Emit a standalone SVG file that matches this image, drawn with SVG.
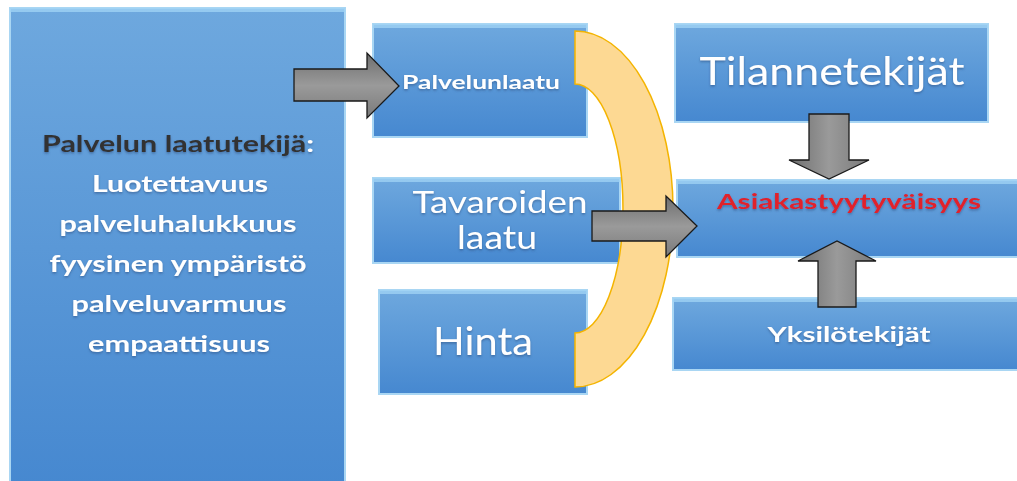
<svg xmlns="http://www.w3.org/2000/svg" width="1017" height="481" viewBox="0 0 1017 481">
<defs>
<linearGradient id="blue" x1="0" y1="0" x2="0" y2="1">
<stop offset="0" stop-color="#6ea8de"/>
<stop offset="1" stop-color="#4688d0"/>
</linearGradient>
<linearGradient id="grayH" x1="0" y1="0" x2="0" y2="1">
<stop offset="0" stop-color="#6e6e6e"/>
<stop offset="0.5" stop-color="#9a9a9a"/>
<stop offset="1" stop-color="#7a7a7a"/>
</linearGradient>
<linearGradient id="grayV" x1="0" y1="0" x2="1" y2="0">
<stop offset="0" stop-color="#6e6e6e"/>
<stop offset="0.5" stop-color="#9a9a9a"/>
<stop offset="1" stop-color="#7a7a7a"/>
</linearGradient>
<filter id="sh" x="-10%" y="-20%" width="120%" height="160%">
<feDropShadow dx="0" dy="1.5" stdDeviation="1" flood-color="#2a4f80" flood-opacity="0.6"/>
</filter>
</defs>
<style>
.box{fill:url(#blue);stroke:#a9d6f3;stroke-width:2}
.hl{fill:#9fd2f4;opacity:0.8}
.t{font-family:Lato,"Open Sans",sans-serif;fill:#ffffff;text-anchor:middle;filter:url(#sh)}
.b{font-weight:bold}
.arr{stroke:#1a1a1a;stroke-width:1.3}
</style>

<g id="n-laatutekija">
<rect class="box" x="10" y="8" width="335" height="480"/>
<rect class="hl" x="10" y="8" width="335" height="4"/>
<text class="t b" x="178" y="152" font-size="22" textLength="272" lengthAdjust="spacingAndGlyphs"><tspan fill="#333333">Palvelun laatutekijä</tspan>:</text>
<text class="t b" x="180" y="192" font-size="22" textLength="176" lengthAdjust="spacingAndGlyphs">Luotettavuus</text>
<text class="t b" x="178" y="232" font-size="22" textLength="237" lengthAdjust="spacingAndGlyphs">palveluhalukkuus</text>
<text class="t b" x="178" y="272" font-size="22" textLength="257" lengthAdjust="spacingAndGlyphs">fyysinen ympäristö</text>
<text class="t b" x="179" y="312" font-size="22" textLength="215" lengthAdjust="spacingAndGlyphs">palveluvarmuus</text>
<text class="t b" x="179" y="352" font-size="22" textLength="182" lengthAdjust="spacingAndGlyphs">empaattisuus</text>
</g>

<g id="n-palvelunlaatu">
<rect class="box" x="373" y="24" width="214" height="113"/>
<rect class="hl" x="373" y="24" width="214" height="4"/>
<text class="t b" x="481" y="89" font-size="18" textLength="158" lengthAdjust="spacingAndGlyphs">Palvelunlaatu</text>
</g>

<g id="n-tavaroiden">
<rect class="box" x="373" y="178" width="247" height="85"/>
<rect class="hl" x="373" y="178" width="247" height="4"/>
<text class="t" x="500" y="213" font-size="30" textLength="175" lengthAdjust="spacingAndGlyphs">Tavaroiden</text>
<text class="t" x="497" y="249" font-size="32" textLength="80" lengthAdjust="spacingAndGlyphs">laatu</text>
</g>

<g id="n-hinta">
<rect class="box" x="379" y="290" width="208" height="104"/>
<rect class="hl" x="379" y="290" width="208" height="4"/>
<text class="t" x="483" y="355" font-size="38" textLength="100" lengthAdjust="spacingAndGlyphs">Hinta</text>
</g>

<g id="n-tilanne">
<rect class="box" x="675" y="24" width="313" height="98"/>
<rect class="hl" x="675" y="24" width="313" height="4"/>
<text class="t" x="832" y="85" font-size="38" textLength="265" lengthAdjust="spacingAndGlyphs">Tilannetekijät</text>
</g>

<g id="n-asiakas">
<rect class="box" x="677" y="180" width="345" height="77"/>
<rect class="hl" x="677" y="180" width="345" height="4"/>
<text class="t b" x="849" y="209" font-size="20" style="fill:#e0202c" textLength="264" lengthAdjust="spacingAndGlyphs">Asiakastyytyväisyys</text>
</g>

<g id="n-yksilo">
<rect class="box" x="673" y="298" width="349" height="72"/>
<rect class="hl" x="673" y="298" width="349" height="4"/>
<text class="t b" x="849" y="342" font-size="20" textLength="163" lengthAdjust="spacingAndGlyphs">Yksilötekijät</text>
</g>

<g id="connectors">
<path id="bracket" d="M575,31 A98,178 0 0 1 575,387 L575,333 A48,124.5 0 0 0 575,84 Z" fill="#fdd993" stroke="#f4b400" stroke-width="1.5"/>
<path class="arr" fill="url(#grayH)" d="M294,69 L367,69 L367,53 L399,86 L367,118 L367,101 L294,101 Z"/>
<path class="arr" fill="url(#grayH)" d="M592,211 L666,211 L666,196 L697,226 L666,257 L666,241 L592,241 Z"/>
<path class="arr" fill="url(#grayV)" d="M809,114 L849,114 L849,160 L869,160 L829,179 L789,160 L809,160 Z"/>
<path class="arr" fill="url(#grayV)" d="M818,307 L856,307 L856,261 L876,261 L837,241 L798,261 L818,261 Z"/>
</g>
</svg>
